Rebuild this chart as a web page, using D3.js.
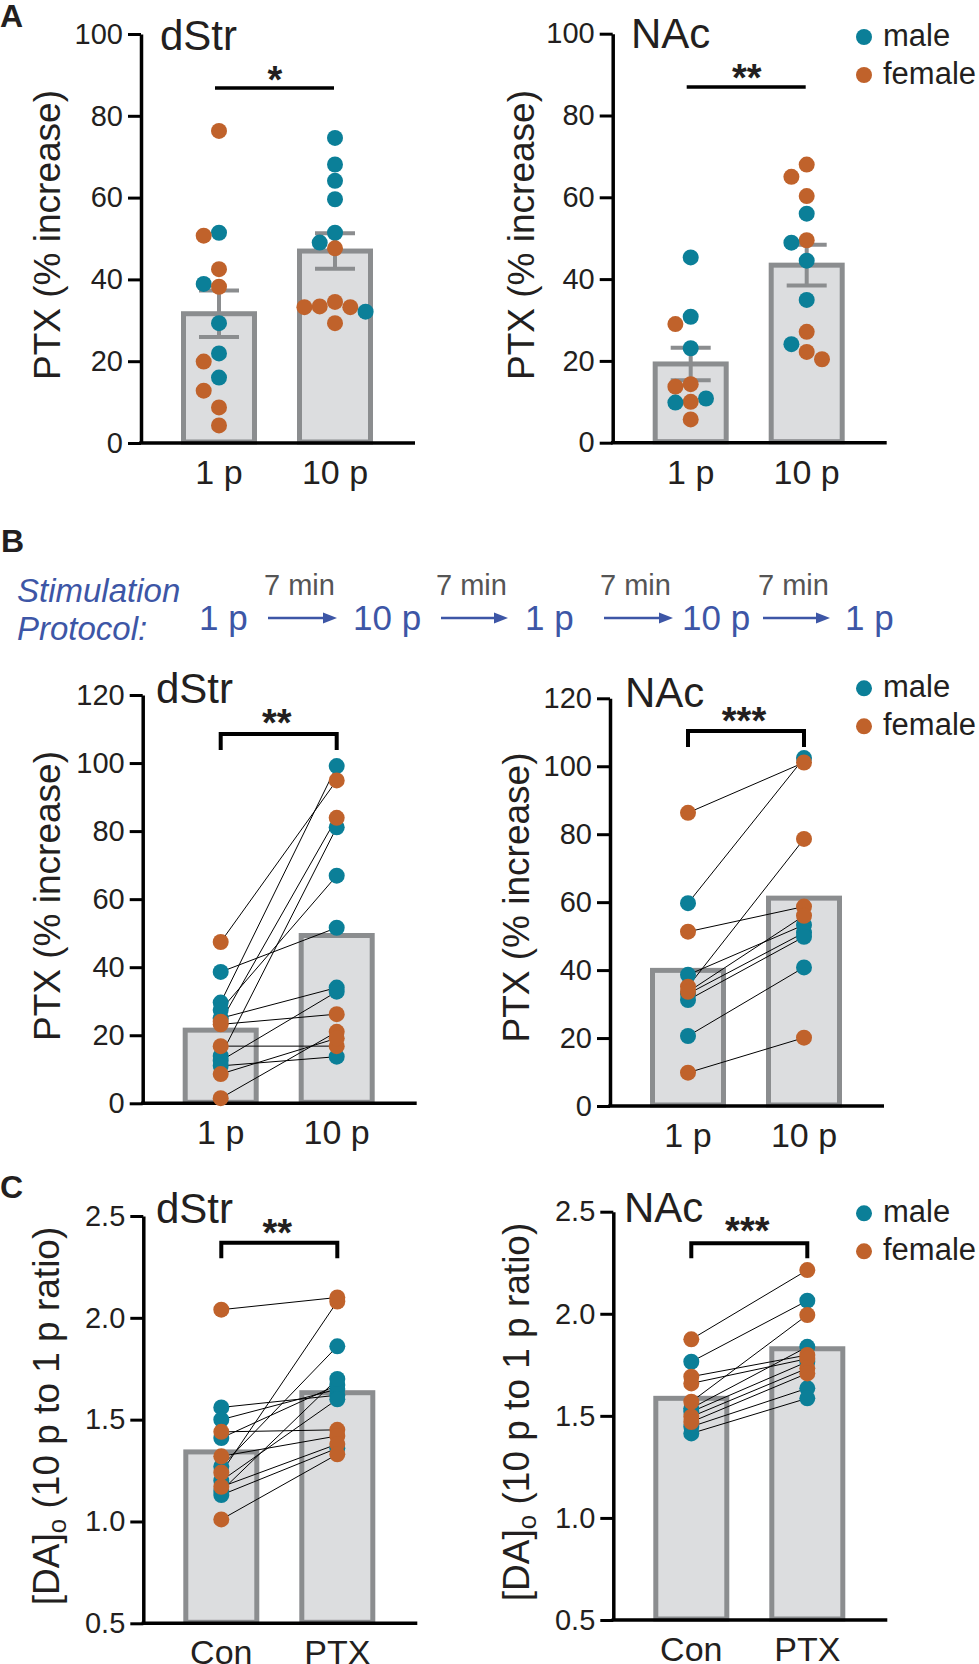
<!DOCTYPE html>
<html>
<head>
<script src="https://d3js.org/d3.v7.min.js"></script>
<style>
  body{ margin:0; background:#fff; }
  svg{ display:block; font-family:"Liberation Sans", Arial, Helvetica, sans-serif; }
</style>
</head>
<body>
<svg id="fig" width="979" height="1664"></svg>
<script>
// ---- data ----
const pulseCats = ["1 p", "10 p"];
const drugCats = ["Con", "PTX"];

// A: single-pulse vs 10-pulse PTX increase (%), dots split by sex
const aDstr1pMale = [51.4, 38.9, 29.3, 21.9, 16.0];
const aDstr1pFemale = [76.3, 50.7, 42.5, 38.2, 19.9, 12.8, 8.7, 4.3];
const aDstr10pMale = [74.6, 68.1, 64.1, 59.6, 51.4, 49.0, 32.1];
const aDstr10pFemale = [47.6, 34.5, 33.4, 33.2, 33.2, 29.3];

const aNac1pMale = [45.3, 30.8, 23.1, 10.8, 9.8];
const aNac1pFemale = [29.0, 14.3, 13.7, 10.0, 5.7];
const aNac10pMale = [56.0, 48.9, 44.5, 34.9, 24.1];
const aNac10pFemale = [68.0, 65.0, 60.3, 49.5, 27.1, 22.2, 20.4];

// B: paired (same slice) 1 p -> 10 p
const bDstrSex = ["f", "m", "f", "f", "f", "f", "f", "m", "m", "m", "m", "m", "m"];
const bDstr1p = [47.4, 38.6, 1.5, 16.8, 23.2, 8.6, 24.0, 29.6, 27.4, 25.0, 13.9, 12.5, 11.0];
const bDstr10p = [94.9, 51.6, 21.0, 16.8, 26.2, 19.1, 83.9, 99.1, 66.9, 34.0, 81.1, 32.8, 13.7];

const bNacSex = ["f", "m", "f", "f", "f", "f", "m", "m", "m", "m"];
const bNac1p = [86.3, 59.7, 51.3, 35.1, 33.6, 9.8, 38.6, 33.0, 31.2, 20.6];
const bNac10p = [101.1, 102.4, 58.7, 78.6, 56.0, 20.1, 53.3, 51.0, 49.8, 40.8];

// C: paired Con -> PTX, 10 p to 1 p ratio
const cDstrSex = ["f", "f", "f", "f", "f", "f", "m", "m", "m", "m", "m", "m", "m"];
const cDstrCon = [2.04, 1.44, 1.32, 1.24, 1.17, 1.01, 1.56, 1.50, 1.41, 1.27, 1.20, 1.15, 1.13];
const cDstrPtx = [2.10, 1.45, 1.42, 2.08, 1.38, 1.33, 1.62, 1.65, 1.67, 1.86, 1.60, 1.70, 1.36];

const cNacSex = ["f", "m", "f", "f", "f", "f", "f", "m", "m", "m", "m"];
const cNacCon = [1.875, 1.765, 1.692, 1.659, 1.569, 1.496, 1.47, 1.537, 1.52, 1.447, 1.414];
const cNacPtx = [2.214, 2.064, 1.798, 1.78, 1.994, 1.733, 1.708, 1.838, 1.765, 1.635, 1.586];

const pctTicks = [0, 20, 40, 60, 80, 100];
const pctTicksB = [0, 20, 40, 60, 80, 100, 120];
const ratioTicks = [0.5, 1.0, 1.5, 2.0, 2.5];

const protocolSteps = ["1 p", "10 p", "1 p", "10 p", "1 p"];
const protocolGap = "7 min";

// ---- styles ----
const MALE = "#0b7f98", FEMALE = "#c0622b", INK = "#231f20";
const BAR_FILL = "#dcdddf", BAR_LINE = "#8b8d8f", BLUE = "#3d56a6";
const R = 8;

const svg = d3.select("#fig");

function toPoints(male, female){
  return male.map(v => ({v: v, sex: "m"})).concat(female.map(v => ({v: v, sex: "f"})));
}
function toPaired(sex, a, b){
  return sex.map((s, i) => ({sex: s, a: a[i], b: b[i]}));
}

// simple swarm: largest values first, shift sideways until no overlap
function swarm(points, y, cx, step){
  const placed = [];
  points.slice().sort((p, q) => q.v - p.v).forEach(p => {
    const py = y(p.v);
    for (let k = 0; k < 20; k++){
      const off = k === 0 ? 0 : (k % 2 ? -Math.ceil(k / 2) : Math.ceil(k / 2)) * step;
      const px = cx + off;
      if (placed.every(o => Math.hypot(o.x - px, o.y - py) >= step - 0.01)){
        placed.push({x: px, y: py, sex: p.sex});
        break;
      }
    }
  });
  return placed;
}

function panel(o){
  const g = svg.append("g");
  const y = d3.scaleLinear().domain(o.domain).range([o.bottom, o.bottom - o.height]);
  const x = d3.scalePoint().domain(o.cats).range([o.ax + 78, o.ax + 194]);

  const groups = o.paired
    ? [o.paired.map(d => d.a), o.paired.map(d => d.b)]
    : o.groups.map(gr => gr.map(d => d.v));

  // bars (mean)
  o.cats.forEach((c, i) => {
    const m = d3.mean(groups[i]);
    g.append("rect")
      .attr("x", x(c) - 35.5).attr("width", 71)
      .attr("y", y(m)).attr("height", o.bottom - y(m) - 1)
      .attr("fill", BAR_FILL).attr("stroke", BAR_LINE).attr("stroke-width", 5);
  });

  // axes
  const yAxis = g.append("g")
    .attr("transform", "translate(" + o.ax + ",0)")
    .call(d3.axisLeft(y).tickValues(o.ticks).tickFormat(o.fmt).tickSize(13).tickSizeOuter(0).tickPadding(5));
  yAxis.select(".domain").attr("stroke", "#000").attr("stroke-width", 3.5);
  yAxis.selectAll(".tick line").attr("stroke", "#000").attr("stroke-width", 3);
  yAxis.selectAll(".tick text").attr("font-size", 29).attr("fill", INK)
    .attr("font-family", "Liberation Sans, Arial, sans-serif");

  g.append("line")
    .attr("x1", o.ax - 1.75).attr("x2", o.ax + 274)
    .attr("y1", o.bottom).attr("y2", o.bottom)
    .attr("stroke", "#000").attr("stroke-width", 3.5);

  g.selectAll(".xlab").data(o.cats).enter().append("text")
    .attr("x", d => x(d)).attr("y", o.bottom + 41)
    .attr("text-anchor", "middle").attr("font-size", 34).attr("fill", INK)
    .text(d => d);

  if (o.groups){
    // error bars (SEM)
    o.cats.forEach((c, i) => {
      const vals = groups[i];
      const m = d3.mean(vals), se = d3.deviation(vals) / Math.sqrt(vals.length);
      const eg = g.append("g").attr("stroke", BAR_LINE).attr("stroke-width", 4);
      eg.append("line").attr("x1", x(c)).attr("x2", x(c)).attr("y1", y(m - se)).attr("y2", y(m + se));
      [m - se, m + se].forEach(v => {
        eg.append("line").attr("x1", x(c) - 20).attr("x2", x(c) + 20).attr("y1", y(v)).attr("y2", y(v));
      });
    });
    o.cats.forEach((c, i) => {
      const pts = swarm(o.groups[i], y, x(c), 15.3);
      g.selectAll(null).data(pts).enter().append("circle")
        .attr("cx", d => d.x).attr("cy", d => d.y).attr("r", R)
        .attr("fill", d => d.sex === "m" ? MALE : FEMALE);
    });
  } else {
    g.selectAll(".pair").data(o.paired).enter().append("line")
      .attr("x1", x(o.cats[0])).attr("x2", x(o.cats[1]))
      .attr("y1", d => y(d.a)).attr("y2", d => y(d.b))
      .attr("stroke", "#000").attr("stroke-width", 1);
    const ordered = o.paired.filter(d => d.sex === "m").concat(o.paired.filter(d => d.sex === "f"));
    o.cats.forEach((c, i) => {
      g.selectAll(null).data(ordered).enter().append("circle")
        .attr("cx", x(c)).attr("cy", d => y(i ? d.b : d.a)).attr("r", R)
        .attr("fill", d => d.sex === "m" ? MALE : FEMALE);
    });
  }

  // title
  g.append("text").attr("x", o.title[1]).attr("y", o.title[2])
    .attr("font-size", 42).attr("fill", INK).text(o.title[0]);

  // significance
  const x1 = x(o.cats[0]), x2 = x(o.cats[1]);
  if (o.sig.bracket){
    g.append("path")
      .attr("d", "M" + x1 + "," + o.sig.leg + "V" + o.sig.y + "H" + x2 + "V" + o.sig.leg)
      .attr("fill", "none").attr("stroke", "#000").attr("stroke-width", 4);
  } else {
    g.append("line").attr("x1", x1 - 4).attr("x2", x2 - 1)
      .attr("y1", o.sig.y).attr("y2", o.sig.y)
      .attr("stroke", "#000").attr("stroke-width", 3.5);
  }
  g.append("text").attr("x", (x1 + x2) / 2 - 2).attr("y", o.sig.sy + 21)
    .attr("text-anchor", "middle").attr("font-size", 38).attr("font-weight", "bold")
    .attr("fill", INK).text(o.sig.stars);

  // y label
  const yl = g.append("text")
    .attr("transform", "translate(" + o.ylab[0] + "," + o.ylab[1] + ") rotate(-90)")
    .attr("dy", "0.33em").attr("text-anchor", "middle")
    .attr("font-size", 37).attr("fill", INK);
  if (o.ratio){
    yl.append("tspan").text("[DA]");
    yl.append("tspan").attr("font-size", 26).attr("dy", 7).text("o");
    yl.append("tspan").attr("dy", -7).text(" (10 p to 1 p ratio)");
  } else {
    yl.text("PTX (% increase)");
  }

  // legend
  if (o.legend){
    [["male", MALE], ["female", FEMALE]].forEach((d, i) => {
      const ly = o.legend + i * 38;
      g.append("circle").attr("cx", 864).attr("cy", ly).attr("r", R).attr("fill", d[1]);
      g.append("text").attr("x", 883).attr("y", ly + 9)
        .attr("font-size", 31).attr("fill", INK).text(d[0]);
    });
  }
}

// ---- panel A ----
panel({ax: 141, bottom: 443, height: 409, domain: [0, 100], ticks: pctTicks, fmt: d3.format("d"),
  cats: pulseCats, groups: [toPoints(aDstr1pMale, aDstr1pFemale), toPoints(aDstr10pMale, aDstr10pFemale)],
  title: ["dStr", 160, 50], sig: {y: 88, sy: 72, stars: "*"}, ylab: [48, 235]});
panel({ax: 612.7, bottom: 442.7, height: 409, domain: [0, 100], ticks: pctTicks, fmt: d3.format("d"),
  cats: pulseCats, groups: [toPoints(aNac1pMale, aNac1pFemale), toPoints(aNac10pMale, aNac10pFemale)],
  title: ["NAc", 631, 48], sig: {y: 87, sy: 70, stars: "**"}, ylab: [521.7, 235], legend: 37});

// ---- panel B ----
panel({ax: 142.7, bottom: 1103.3, height: 408.3, domain: [0, 120], ticks: pctTicksB, fmt: d3.format("d"),
  cats: pulseCats, paired: toPaired(bDstrSex, bDstr1p, bDstr10p),
  title: ["dStr", 156, 703], sig: {bracket: true, y: 734, leg: 750, sy: 715, stars: "**"}, ylab: [48, 896]});
panel({ax: 610, bottom: 1106, height: 407.7, domain: [0, 120], ticks: pctTicksB, fmt: d3.format("d"),
  cats: pulseCats, paired: toPaired(bNacSex, bNac1p, bNac10p),
  title: ["NAc", 625, 706.7], sig: {bracket: true, y: 731, leg: 747, sy: 713, stars: "***"}, ylab: [516.7, 897.5], legend: 688.3});

// ---- panel C ----
panel({ax: 143.3, bottom: 1623.3, height: 407.3, domain: [0.5, 2.5], ticks: ratioTicks, fmt: d3.format(".1f"),
  cats: drugCats, paired: toPaired(cDstrSex, cDstrCon, cDstrPtx), ratio: true,
  title: ["dStr", 156, 1223], sig: {bracket: true, y: 1242.7, leg: 1258.3, sy: 1225, stars: "**"}, ylab: [46.7, 1416]});
panel({ax: 613.3, bottom: 1620, height: 408.3, domain: [0.5, 2.5], ticks: ratioTicks, fmt: d3.format(".1f"),
  cats: drugCats, paired: toPaired(cNacSex, cNacCon, cNacPtx), ratio: true,
  title: ["NAc", 624, 1221.7], sig: {bracket: true, y: 1243.3, leg: 1258.3, sy: 1223, stars: "***"}, ylab: [516.7, 1412], legend: 1213.3});

// ---- panel letters ----
[["A", 0, 27], ["B", 1, 552], ["C", 0, 1198]].forEach(d => {
  svg.append("text").attr("x", d[1]).attr("y", d[2])
    .attr("font-size", 32).attr("font-weight", "bold").attr("fill", INK).text(d[0]);
});

// ---- stimulation protocol ----
const proto = svg.append("g");
proto.append("text").attr("x", 17).attr("y", 602).attr("font-size", 33)
  .attr("font-style", "italic").attr("fill", BLUE).text("Stimulation");
proto.append("text").attr("x", 17).attr("y", 640).attr("font-size", 33)
  .attr("font-style", "italic").attr("fill", BLUE).text("Protocol:");

const stepX = [199, 353, 525, 682, 845];
const arrowX = [[268, 337], [441, 508], [604, 673], [763, 830]];
protocolSteps.forEach((s, i) => {
  proto.append("text").attr("x", stepX[i]).attr("y", 630)
    .attr("font-size", 35).attr("fill", BLUE).text(s);
});
arrowX.forEach(a => {
  proto.append("line").attr("x1", a[0]).attr("x2", a[1] - 12).attr("y1", 618).attr("y2", 618)
    .attr("stroke", BLUE).attr("stroke-width", 2.5);
  proto.append("path").attr("d", "M" + (a[1] - 14) + ",612.5L" + a[1] + ",618L" + (a[1] - 14) + ",623.5Z")
    .attr("fill", BLUE);
  proto.append("text").attr("x", (a[0] + a[1]) / 2 - 3).attr("y", 595).attr("text-anchor", "middle")
    .attr("font-size", 29).attr("fill", "#555").text(protocolGap);
});
</script>
</body>
</html>
